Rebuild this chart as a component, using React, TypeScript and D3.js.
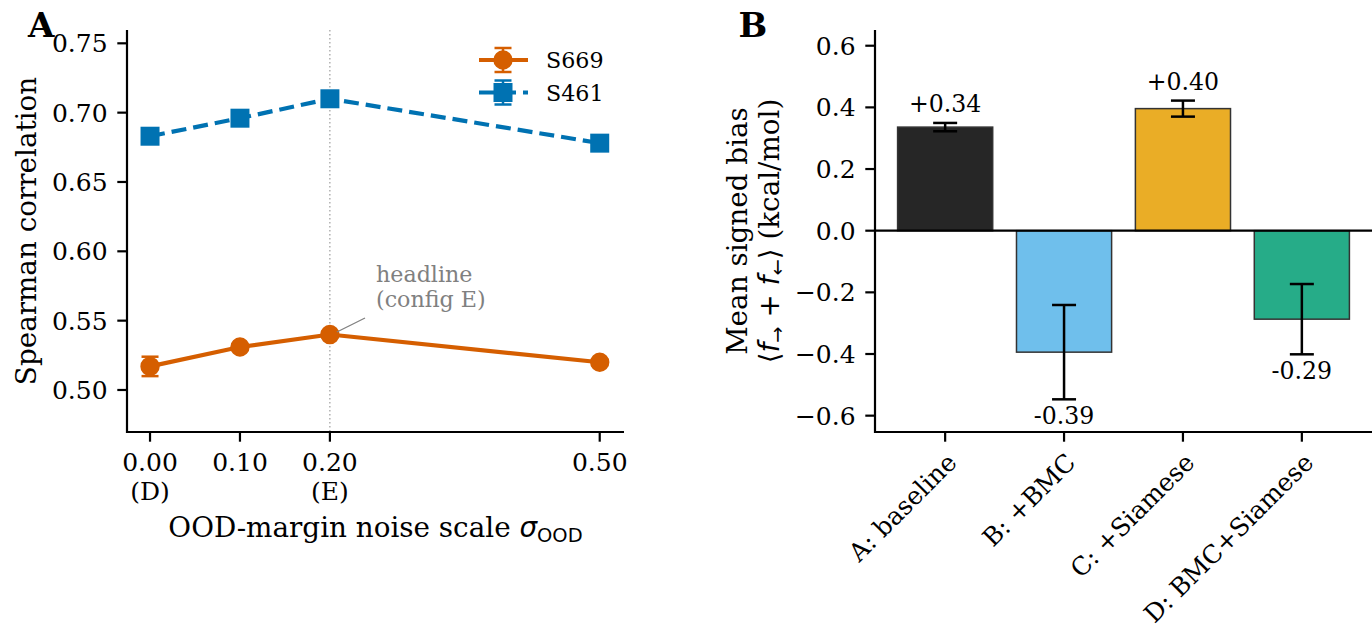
import React from "react";
import * as d3 from "d3";

// ---------- Data ----------
const noiseScales = [0.0, 0.1, 0.2, 0.5];
const noiseTickMain = ["0.00", "0.10", "0.20", "0.50"];
const noiseTickSub = ["(D)", "", "(E)", ""];
const s669 = [0.517, 0.531, 0.540, 0.520];
const s669Err = [0.007, 0.002, 0.002, 0.002];
const s461 = [0.683, 0.696, 0.710, 0.678];
const s461Err = [0.002, 0.002, 0.002, 0.002];
const yTicksA = [0.5, 0.55, 0.6, 0.65, 0.7, 0.75];

const configs = ["A: baseline", "B: +BMC", "C: +Siamese", "D: BMC+Siamese"];
const bias = [0.336, -0.394, 0.396, -0.287];
const biasErr = [0.0135, 0.153, 0.026, 0.114];
const biasLabels = ["+0.34", "-0.39", "+0.40", "-0.29"];
const yTicksB = [-0.6, -0.4, -0.2, 0, 0.2, 0.4, 0.6];

// ---------- Styles ----------
const barColors = ["#000000", "#56B4E9", "#E69F00", "#009E73"];
const ORANGE = "#D55E00";
const BLUE = "#0072B2";
const SERIF = "'DejaVu Serif', serif";
const SANS = "'DejaVu Sans', sans-serif";
const TICK_FS = 25;
const LABEL_FS = 27.8;

const fmtMinus = (v: number) => d3.format(".1f")(v).replace("-", "\u2212");

export default function App() {
  // Panel A
  const xA = d3.scaleLinear().domain([-0.0256, 0.527]).range([127, 624]);
  const yA = d3.scaleLinear().domain([0.4697, 0.7596]).range([432, 30]);
  const line = d3
    .line<number>()
    .x((_, i) => xA(noiseScales[i]))
    .y((d) => yA(d));
  const circlePath = d3.symbol(d3.symbolCircle, Math.PI * 9.7 * 9.7)()!;
  const squarePath = d3.symbol(d3.symbolSquare, 19 * 19)()!;

  // Panel B
  const xB = d3.scaleLinear().domain([-0.59, 3.59]).range([875, 1372]);
  const yB = d3.scaleLinear().domain([-0.653, 0.651]).range([432, 30]);
  const barW = xB(0.8) - xB(0);

  const series = [
    { vals: s669, errs: s669Err, color: ORANGE, marker: circlePath, dash: undefined as string | undefined },
    { vals: s461, errs: s461Err, color: BLUE, marker: squarePath, dash: "15,7" },
  ];

  return (
    <svg
      width={1372}
      height={625}
      style={{ position: "fixed", left: 0, top: 0, background: "#fff" }}
      fontFamily={SERIF}
    >
      <rect x={0} y={0} width={1372} height={625} fill="#fff" />
      {/* ================= Panel A ================= */}
      <text x={28} y={36.5} fontSize={34} fontWeight="bold">A</text>

      {/* vertical dotted reference */}
      <line x1={xA(0.2)} x2={xA(0.2)} y1={30} y2={432} stroke="#888" strokeWidth={1} strokeDasharray="1.5,2.5" />

      {/* series */}
      {series.map((s, si) => (
        <g key={si}>
          <path d={line(s.vals)!} fill="none" stroke={s.color} strokeWidth={4.2} strokeDasharray={s.dash} />
          {s.vals.map((v, i) => {
            const cx = xA(noiseScales[i]);
            const y1 = yA(v + s.errs[i]);
            const y2 = yA(v - s.errs[i]);
            return (
              <g key={i}>
                <line x1={cx} x2={cx} y1={y1} y2={y2} stroke={s.color} strokeWidth={2.5} />
                <line x1={cx - 8.5} x2={cx + 8.5} y1={y1} y2={y1} stroke={s.color} strokeWidth={2.5} />
                <line x1={cx - 8.5} x2={cx + 8.5} y1={y2} y2={y2} stroke={s.color} strokeWidth={2.5} />
                <path d={s.marker} transform={`translate(${cx},${yA(v)})`} fill={s.color} />
              </g>
            );
          })}
        </g>
      ))}

      {/* annotation */}
      <line x1={xA(0.2) + 7} y1={yA(s669[2]) - 2.5} x2={365} y2={318} stroke="#808080" strokeWidth={1.3} />
      <text x={376} y={281.7} fontSize={22.2} fill="#808080">headline</text>
      <text x={376} y={306.7} fontSize={22.2} fill="#808080">(config E)</text>

      {/* legend */}
      {series.map((s, si) => {
        const ly = 60 + si * 32.5;
        const lx = 503;
        return (
          <g key={si}>
            <line x1={479} x2={528} y1={ly} y2={ly} stroke={s.color} strokeWidth={4.2} strokeDasharray={s.dash} />
            <line x1={lx} x2={lx} y1={ly - 12} y2={ly + 12} stroke={s.color} strokeWidth={2.5} />
            <line x1={lx - 8.5} x2={lx + 8.5} y1={ly - 12} y2={ly - 12} stroke={s.color} strokeWidth={2.5} />
            <line x1={lx - 8.5} x2={lx + 8.5} y1={ly + 12} y2={ly + 12} stroke={s.color} strokeWidth={2.5} />
            <path d={s.marker} transform={`translate(${lx},${ly})`} fill={s.color} />
            <text x={546} y={ly + 8} fontSize={22.2}>{si === 0 ? "S669" : "S461"}</text>
          </g>
        );
      })}

      {/* axes A */}
      <line x1={127} x2={127} y1={30} y2={433} stroke="#000" strokeWidth={2.2} />
      <line x1={126} x2={624} y1={432} y2={432} stroke="#000" strokeWidth={2.2} />
      {yTicksA.map((t) => (
        <g key={t}>
          <line x1={117.3} x2={127} y1={yA(t)} y2={yA(t)} stroke="#000" strokeWidth={2.2} />
          <text x={107.6} y={yA(t)} dy="0.36em" textAnchor="end" fontSize={TICK_FS}>
            {d3.format(".2f")(t)}
          </text>
        </g>
      ))}
      {noiseScales.map((t, i) => (
        <g key={t}>
          <line x1={xA(t)} x2={xA(t)} y1={432} y2={441.7} stroke="#000" strokeWidth={2.2} />
          <text x={xA(t)} y={471} textAnchor="middle" fontSize={TICK_FS}>{noiseTickMain[i]}</text>
          {noiseTickSub[i] && (
            <text x={xA(t)} y={500} textAnchor="middle" fontSize={TICK_FS}>{noiseTickSub[i]}</text>
          )}
        </g>
      ))}
      <text x={375.5} y={537} textAnchor="middle" fontSize={LABEL_FS}>
        OOD-margin noise scale{" "}
        <tspan fontFamily={SANS} fontStyle="italic">σ</tspan>
        <tspan fontFamily={SANS} fontSize={LABEL_FS * 0.7} dy={5}>OOD</tspan>
      </text>
      <text transform={`translate(36,231) rotate(-90)`} textAnchor="middle" fontSize={LABEL_FS}>
        Spearman correlation
      </text>

      {/* ================= Panel B ================= */}
      <text x={738.6} y={36.5} fontSize={34} fontWeight="bold">B</text>

      {bias.map((v, i) => {
        const cx = xB(i);
        const y0 = yB(0);
        const yv = yB(v);
        return (
          <rect
            key={i}
            x={cx - barW / 2}
            y={Math.min(y0, yv)}
            width={barW}
            height={Math.abs(yv - y0)}
            fill={barColors[i]}
            fillOpacity={0.85}
            stroke="#333"
            strokeWidth={1.5}
          />
        );
      })}
      <line x1={875} x2={1372} y1={yB(0)} y2={yB(0)} stroke="#000" strokeWidth={2.2} />
      {bias.map((v, i) => {
        const cx = xB(i);
        const yt = yB(v + biasErr[i]);
        const yb = yB(v - biasErr[i]);
        return (
          <g key={i}>
            <line x1={cx} x2={cx} y1={yt} y2={yb} stroke="#000" strokeWidth={2.5} />
            <line x1={cx - 12} x2={cx + 12} y1={yt} y2={yt} stroke="#000" strokeWidth={2.5} />
            <line x1={cx - 12} x2={cx + 12} y1={yb} y2={yb} stroke="#000" strokeWidth={2.5} />
            <text
              x={cx}
              y={v >= 0 ? yt - 11 : yb + 24.5}
              textAnchor="middle"
              fontSize={23.6}
            >
              {biasLabels[i]}
            </text>
          </g>
        );
      })}

      {/* axes B */}
      <line x1={875} x2={875} y1={30} y2={433} stroke="#000" strokeWidth={2.2} />
      <line x1={874} x2={1372} y1={432} y2={432} stroke="#000" strokeWidth={2.2} />
      {yTicksB.map((t) => (
        <g key={t}>
          <line x1={865.3} x2={875} y1={yB(t)} y2={yB(t)} stroke="#000" strokeWidth={2.2} />
          <text x={855.6} y={yB(t)} dy="0.36em" textAnchor="end" fontSize={TICK_FS}>
            {fmtMinus(t)}
          </text>
        </g>
      ))}
      {configs.map((c, i) => (
        <g key={c}>
          <line x1={xB(i)} x2={xB(i)} y1={432} y2={441.7} stroke="#000" strokeWidth={2.2} />
          <text
            transform={`translate(${xB(i) + 13},${464}) rotate(-45)`}
            textAnchor="end"
            fontSize={TICK_FS}
          >
            {c}
          </text>
        </g>
      ))}
      <text transform={`translate(747,231) rotate(-90)`} textAnchor="middle" fontSize={LABEL_FS}>
        Mean signed bias
      </text>
      <text transform={`translate(779,231) rotate(-90)`} textAnchor="middle" fontSize={LABEL_FS}>
        <tspan fontFamily={SANS}>⟨</tspan>
        <tspan fontFamily={SANS} fontStyle="italic">f</tspan>
        <tspan fontFamily={SANS} fontSize={LABEL_FS * 0.7} dy={5}>→</tspan>
        <tspan fontFamily={SANS} dy={-5}> + </tspan>
        <tspan fontFamily={SANS} fontStyle="italic">f</tspan>
        <tspan fontFamily={SANS} fontSize={LABEL_FS * 0.7} dy={5}>←</tspan>
        <tspan fontFamily={SANS} dy={-5}>⟩</tspan>
        <tspan> (kcal/mol)</tspan>
      </text>
    </svg>
  );
}
